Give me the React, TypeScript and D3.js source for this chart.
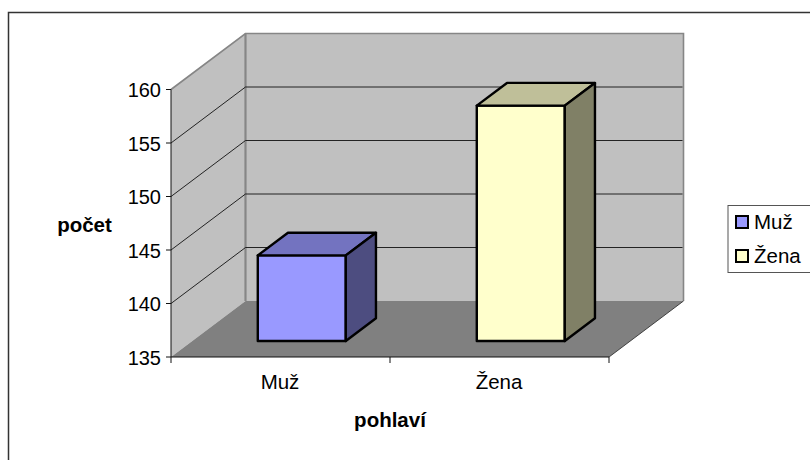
import React from "react";
import * as d3 from "d3";

const categories = ["Muž", "Žena"];
const values = [143, 157];
const fills = ["#9999ff", "#ffffcc"];
const tops = ["#7373c0", "#bfbf99"];
const sides = ["#4d4d80", "#808066"];
const ticks = [135, 140, 145, 150, 155, 160];
const legendLabels = ["Muž", "Žena"];
const xTitle = "pohlaví";
const yTitle = "počet";

const font = "Liberation Sans, Arial, sans-serif";

export default function App() {
  const W = 810, H = 460;
  const y = d3.scaleLinear().domain([135, 160]).range([357, 89.5]);
  const x = d3.scaleBand().domain(categories).range([171, 609]);
  const DX = 74.5, DY = -56;
  const barW = 88;
  const inset = 16 / 56; // front of bar set back from the floor edge
  const depth = 0.405; // bar depth as fraction of floor depth
  const ox = DX * inset, oy = DY * inset;
  const dx = DX * depth, dy = DY * depth;
  const poly = (p: number[][]) => p.map((q) => q.join(",")).join(" ");
  const backLeft = 171 + DX;
  const backRight = 609 + DX;
  return (
    <svg width={W} height={H} style={{ position: "absolute", left: 0, top: 0, display: "block" }} fontFamily={font}>
      <rect x={0} y={0} width={W} height={H} fill="#fff" />
      <path d={`M8.5 ${H}V12.5H${W}`} fill="none" stroke="#333" strokeWidth={1.5} />
      {/* walls */}
      <polygon points={poly([[171, y(135)], [171, y(160)], [backLeft, y(160) + DY], [backLeft, y(135) + DY]])} fill="#c0c0c0" />
      <rect x={backLeft} y={y(160) + DY} width={609 - 171} height={y(135) - y(160)} fill="#c0c0c0" />
      <polygon points={poly([[171, y(135)], [609, y(135)], [backRight, y(135) + DY], [backLeft, y(135) + DY]])} fill="#808080" />
      <path d={`M171 ${y(160)}L${backLeft} ${y(160) + DY}H${backRight}V${y(135) + DY}`} fill="none" stroke="#868686" strokeWidth={1.6} />
      <path d={`M${backLeft} ${y(160) + DY}V${y(135) + DY}`} fill="none" stroke="#868686" strokeWidth={2.2} />
      {/* gridlines */}
      {ticks.slice(1, -1).map((t) => (
        <path key={t} d={`M171 ${y(t)}L${backLeft} ${y(t) + DY}H${backRight - 1}`} fill="none" stroke="#111" strokeWidth={0.9} />
      ))}
      <path d={`M609 ${y(135)}L${backRight} ${y(135) + DY}`} stroke="#333" strokeWidth={0.9} fill="none" />
      {/* axes */}
      <path d={`M171 ${y(160)}V${y(135)}H609`} fill="none" stroke="#111" strokeWidth={1} />
      {ticks.map((t) => (
        <g key={t}>
          <line x1={166} x2={171} y1={y(t)} y2={y(t)} stroke="#111" />
          <text x={161} y={y(t) + 7.5} textAnchor="end" fontSize={20} fill="#000">{t}</text>
        </g>
      ))}
      {[171, 390, 609].map((px) => (
        <line key={px} x1={px} x2={px} y1={357} y2={363} stroke="#111" />
      ))}
      {/* bars */}
      {categories.map((c, i) => {
        const x0 = x(c)! + x.bandwidth() / 2 - barW / 2 + ox;
        const x1 = x0 + barW;
        const base = y(135) + oy;
        const top = y(values[i]) + oy;
        return (
          <g key={c} stroke="#000" strokeWidth={2.4} strokeLinejoin="round">
            <rect x={x0} y={top} width={barW} height={base - top} fill={fills[i]} />
            <polygon points={poly([[x0, top], [x1, top], [x1 + dx, top + dy], [x0 + dx, top + dy]])} fill={tops[i]} />
            <polygon points={poly([[x1, top], [x1 + dx, top + dy], [x1 + dx, base + dy], [x1, base]])} fill={sides[i]} />
          </g>
        );
      })}
      {/* category labels */}
      {categories.map((c) => (
        <text key={c} x={x(c)! + x.bandwidth() / 2 - 0.5} y={389} textAnchor="middle" fontSize={20.5} fill="#000">{c}</text>
      ))}
      <text x={390} y={427} textAnchor="middle" fontSize={20.5} fontWeight="bold" fill="#000">{xTitle}</text>
      <text x={84.5} y={231.5} textAnchor="middle" fontSize={20.5} fontWeight="bold" fill="#000">{yTitle}</text>
      {/* legend */}
      <rect x={728} y={205.5} width={95} height={67} fill="#fff" stroke="#555" strokeWidth={1} />
      {legendLabels.map((l, i) => (
        <g key={l}>
          <rect x={736} y={216 + i * 34} width={12} height={12} fill={fills[i]} stroke="#000" strokeWidth={2} />
          <text x={754} y={229 + i * 34} fontSize={20.5} fill="#000">{l}</text>
        </g>
      ))}
    </svg>
  );
}
